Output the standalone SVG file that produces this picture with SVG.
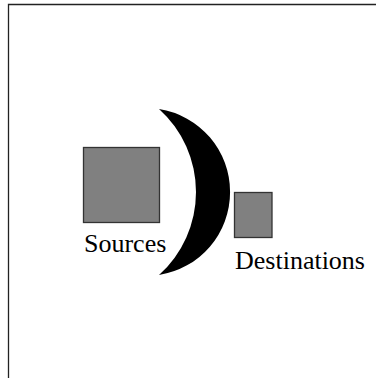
<svg xmlns="http://www.w3.org/2000/svg" width="376" height="378" viewBox="0 0 376 378">
<style>
.box{fill:#808080;stroke:#333;stroke-width:1.3}
.lbl{font-family:"Liberation Serif","Times New Roman",serif;font-size:26px;fill:#000}
</style>
<rect width="376" height="378" fill="#fff"/>
<path d="M8.5 378 V4.5 H376" fill="none" stroke="#222" stroke-width="1.3"/>
<g id="crescent">
<path d="M159 109 A84 84 0 0 1 159 275 A111.6 111.6 0 0 0 159 109 Z" fill="#000"/>
</g>
<g id="sources">
<rect class="box" x="83.5" y="147.5" width="76" height="75"/>
<text class="lbl" x="84" y="252">Sources</text>
</g>
<g id="destinations">
<rect class="box" x="234.5" y="192.5" width="37.5" height="45"/>
<text class="lbl" x="235" y="269">Destinations</text>
</g>
<g id="connectors"></g>
</svg>
